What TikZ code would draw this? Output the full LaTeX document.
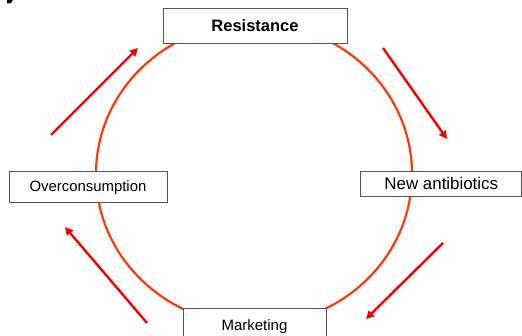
\documentclass[tikz,border=0pt]{standalone}
\usepackage{fontspec}
\setmainfont{Liberation Sans}
\usetikzlibrary{arrows.meta}
\definecolor{ringc}{HTML}{FF3A0A}
\definecolor{arrc}{HTML}{F00000}
\definecolor{boxc}{HTML}{555555}
\begin{document}
\begin{tikzpicture}[x=1pt,y=-1pt,
  box/.style={draw=boxc,line width=0.9pt,fill=white,inner sep=0pt,anchor=center,text depth=0pt},
  cyc/.style={draw=arrc,line width=2.4pt,-{Triangle[length=8pt,width=8pt]}}]
\useasboundingbox (0,0) rectangle (522,336);
% cropped glyph fragment top-left
\fill[black] (7,0) -- (13,0) -- (11,3) -- (7,3.5) -- cycle;
% ring
\draw[ringc,line width=2.2pt] (254,174) ellipse [x radius=158, y radius=151];
% boxes
\node[box,minimum width=184,minimum height=35,text height=12pt,font=\fontsize{16.5}{18}\selectfont\bfseries] (res) at (255,25.5) {Resistance};
\node[box,minimum width=158,minimum height=31,text height=10.8pt,font=\fontsize{14.9}{17}\selectfont] (over) at (88,186.5) {Overconsumption};
\node[box,minimum width=161,minimum height=25,text height=12.2pt,font=\fontsize{16.9}{19}\selectfont] (anti) at (441.3,183.5) {New antibiotics};
\node[box,minimum width=143,minimum height=34,text height=10.8pt,font=\fontsize{15}{17}\selectfont] (mkt) at (254.5,325) {Marketing};
% arrow end points
\coordinate (a1s) at (51,135);  \coordinate (a1e) at (138,48);
\coordinate (a2s) at (383,48);  \coordinate (a2e) at (447,139);
\coordinate (a3s) at (443,243); \coordinate (a3e) at (366,319);
\coordinate (a4s) at (147,323); \coordinate (a4e) at (65,227);
\draw[cyc] (a1s) -- (a1e);
\draw[cyc] (a2s) -- (a2e);
\draw[cyc] (a3s) -- (a3e);
\draw[cyc] (a4s) -- (a4e);
\end{tikzpicture}
\end{document}
